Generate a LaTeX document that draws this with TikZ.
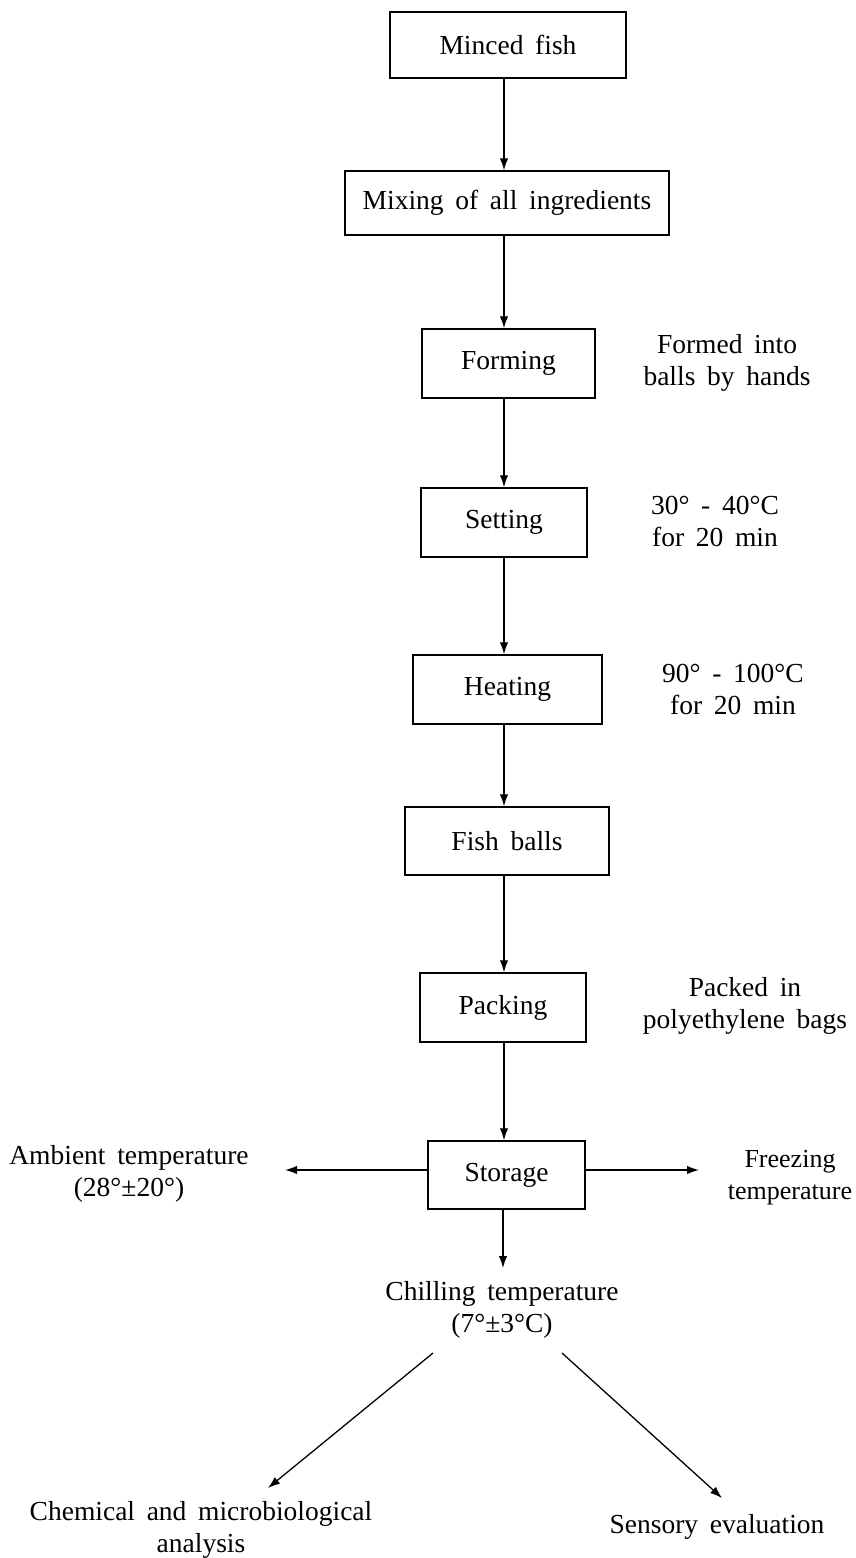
\documentclass[tikz,border=0pt]{standalone}
\usepackage{fontspec}
\setmainfont{Liberation Serif}[WordSpace=1.7]
\usetikzlibrary{arrows.meta}
\begin{document}
\begin{tikzpicture}[x=1pt,y=-1pt,
  every node/.style={font=\fontsize{27.5}{32}\selectfont, inner sep=0pt},
  stepbox/.style={draw, line width=1.5pt},
  lbl/.style={align=center},
  conn/.style={line width=1.3pt, -{Latex[length=12pt,width=8.5pt]}}]
\useasboundingbox (0,0) rectangle (855,1558);
\coordinate (ax) at (504,0);
\node[stepbox, minimum width=236pt, minimum height=66pt] (minced) at (508,45) {Minced fish};
\node[stepbox, minimum width=324pt, minimum height=64pt] (mixing) at (507,203) {Mixing of all ingredients};
\node[stepbox, minimum width=173pt, minimum height=69pt] (forming) at (508.5,363.5) {Forming};
\node[stepbox, minimum width=166pt, minimum height=69pt] (setting) at (504,522.5) {Setting};
\node[stepbox, minimum width=189pt, minimum height=69pt] (heating) at (507.5,689.5) {Heating};
\node[stepbox, minimum width=204pt, minimum height=68pt] (fishballs) at (507,841) {Fish balls};
\node[stepbox, minimum width=166pt, minimum height=69pt] (packing) at (503,1007.5) {Packing};
\node[stepbox, minimum width=157pt, minimum height=68pt] (storage) at (506.5,1175) {Storage};

\node[lbl] (formlbl) at (727,363) {Formed into\\balls by hands};
\node[lbl] (setlbl) at (715,521) {30° - 40°C\\for 20 min};
\node[lbl] (heatlbl) at (733,689) {90° - 100°C\\for 20 min};
\node[lbl] (packlbl) at (745,1006) {Packed in\\polyethylene bags};
\node[lbl] (ambient) at (129,1174) {Ambient temperature\\(28°±20°)};
\node[lbl, font=\fontsize{26}{32}\selectfont] (freezing) at (790,1178) {Freezing\\temperature};
\node[lbl] (chilling) at (502,1310) {Chilling temperature\\(7°±3°C)};
\node[lbl] (chemical) at (201,1530) {Chemical and microbiological\\analysis};
\node[lbl] (sensory) at (717,1527) {Sensory evaluation};

\coordinate (ambend) at (285,1170);
\coordinate (frzend) at (699,1170);
\coordinate (chlend) at (503,1268);
\coordinate (dlstart) at (433,1353);
\coordinate (dlend) at (268,1488);
\coordinate (drstart) at (562,1353);
\coordinate (drend) at (722,1498);

\draw[conn] (minced.south -| ax) -- (mixing.north -| ax);
\draw[conn] (mixing.south -| ax) -- (forming.north -| ax);
\draw[conn] (forming.south -| ax) -- (setting.north -| ax);
\draw[conn] (setting.south -| ax) -- (heating.north -| ax);
\draw[conn] (heating.south -| ax) -- (fishballs.north -| ax);
\draw[conn] (fishballs.south -| ax) -- (packing.north -| ax);
\draw[conn] (packing.south -| ax) -- (storage.north -| ax);
\draw[conn] (storage.west |- ambend) -- (ambend);
\draw[conn] (storage.east |- frzend) -- (frzend);
\draw[conn] (storage.south -| chlend) -- (chlend);
\draw[conn] (dlstart) -- (dlend);
\draw[conn] (drstart) -- (drend);
\end{tikzpicture}
\end{document}
